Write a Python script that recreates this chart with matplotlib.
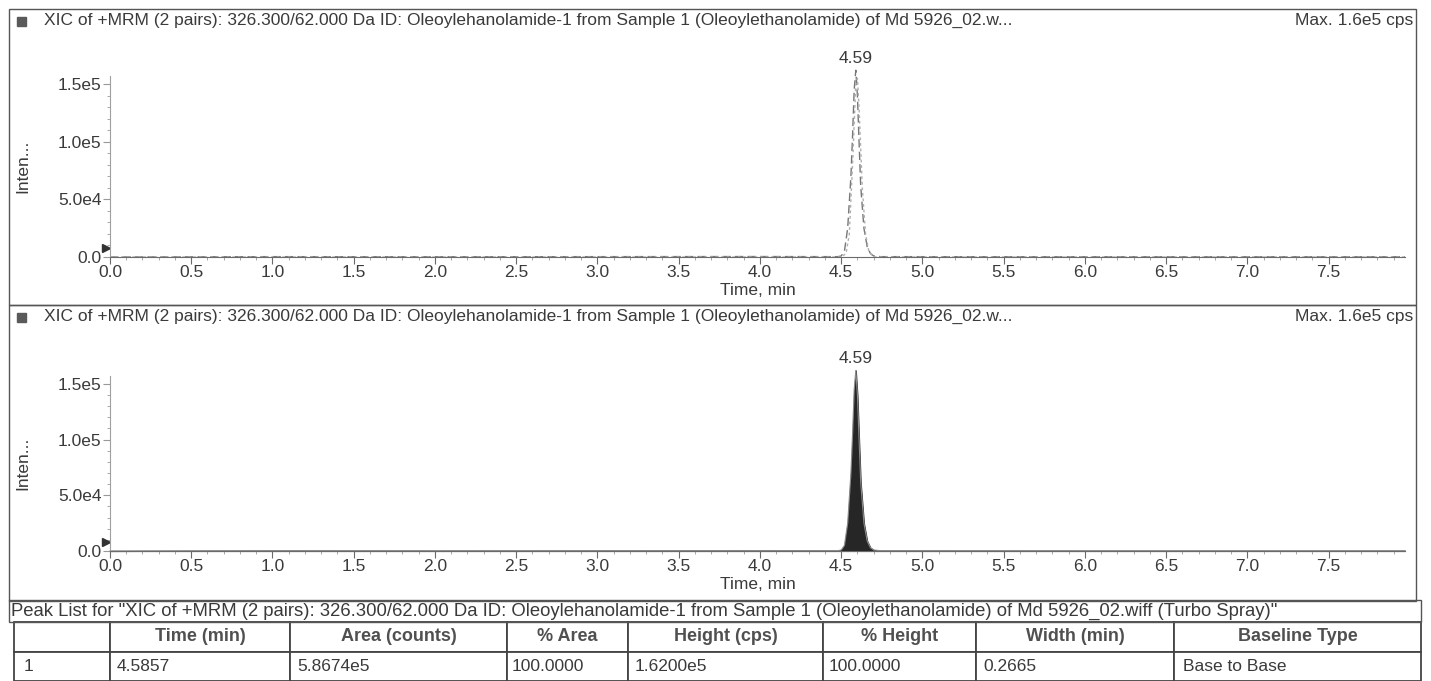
import matplotlib.pyplot as plt
from matplotlib.patches import Rectangle

plt.rcParams['font.family'] = ['Liberation Sans', 'DejaVu Sans']

W, H = 1431, 681

# chromatogram (min, cps)
time_a = [0.0, 1.0, 2.0, 3.0, 4.0, 4.48, 4.50, 4.52, 4.54, 4.56, 4.57, 4.58, 4.59,
          4.60, 4.61, 4.62, 4.64, 4.66, 4.68, 4.70, 4.74, 6.0, 7.97]
inten_a = [0, 300, 200, 300, 400, 300, 900, 5000, 25000, 70000, 105000, 145000, 162000,
           140000, 100000, 62000, 25000, 9000, 3000, 900, 300, 200, 200]
# second transition (top panel, lighter trace)
time_b = [0.0, 4.50, 4.53, 4.55, 4.57, 4.59, 4.60, 4.61, 4.63, 4.65, 4.67, 4.70, 7.97]
inten_b = [0, 0, 3000, 20000, 80000, 150000, 155000, 130000, 60000, 20000, 5000, 0, 0]

peak_rt = 4.59
x_ticks = [0.0, 0.5, 1.0, 1.5, 2.0, 2.5, 3.0, 3.5, 4.0, 4.5, 5.0, 5.5, 6.0, 6.5, 7.0, 7.5]
y_ticks = [0, 50000, 100000, 150000]
y_labels = ['0.0', '5.0e4', '1.0e5', '1.5e5']

title = ('XIC of +MRM (2 pairs): 326.300/62.000 Da ID: Oleoylehanolamide-1 from Sample 1 '
         '(Oleoylethanolamide) of Md 5926_02.w...')
max_label = 'Max. 1.6e5 cps'
peak_list_title = ('Peak List for "XIC of +MRM (2 pairs): 326.300/62.000 Da ID: Oleoylehanolamide-1 '
                   'from Sample 1 (Oleoylethanolamide) of Md 5926_02.wiff (Turbo Spray)"')
col_headers = ['', 'Time (min)', 'Area (counts)', '% Area', 'Height (cps)', '% Height',
               'Width (min)', 'Baseline Type']
row_values = ['1', '4.5857', '5.8674e5', '100.0000', '1.6200e5', '100.0000', '0.2665',
              'Base to Base']

TXT = '#3a3a3a'
LINE = '#6a6a6a'
FS = 12.5


def rect(l, t, r, b):
    return [l / W, 1 - b / H, (r - l) / W, (b - t) / H]


fig = plt.figure(figsize=(W / 100, H / 100), dpi=100)


def panel(top, ax_top, ax_bot, filled):
    # outer frame
    fig.add_artist(Rectangle((9 / W, 1 - (top + 296) / H), 1407 / W, 296 / H,
                             transform=fig.transFigure, fill=False, ec='#555555', lw=1.0))
    fig.add_artist(Rectangle((17 / W, 1 - (top + 17) / H), 9 / W, 9 / H,
                             transform=fig.transFigure, color='#5a5a5a'))
    fig.text(44 / W, 1 - (top + 11) / H, title, fontsize=FS, color=TXT, va='center')
    fig.text(1413 / W, 1 - (top + 11) / H, max_label, fontsize=FS, color=TXT,
             va='center', ha='right')

    ax = fig.add_axes(rect(110, ax_top, 1405, ax_bot))
    if filled:
        ax.fill_between(time_a, inten_a, color='#262626', lw=0.8, clip_on=False)
        ax.plot(time_a, inten_a, color='#8a8a8a', lw=0.8, clip_on=False)
    else:
        ax.plot(time_a, inten_a, color='#777777', lw=1.0, ls=(0, (6, 3)), clip_on=False)
        ax.plot(time_b, inten_b, color='#b0b0b0', lw=1.0, ls=(0, (2, 2)), clip_on=False)
    ax.set_xlim(0, 7.97)
    ax.set_ylim(0, 157000)
    ax.set_xticks(x_ticks)
    ax.set_xticklabels([f'{t:.1f}' for t in x_ticks])
    ax.set_yticks(y_ticks)
    ax.set_yticklabels(y_labels)
    ax.set_xticks([i / 10 for i in range(80)], minor=True)
    ax.set_yticks([i * 10000 for i in range(16)], minor=True)
    for s in ['top', 'right']:
        ax.spines[s].set_visible(False)
    ax.spines['bottom'].set_color(LINE)
    ax.spines['left'].set_color('#a0a0a0')
    ax.tick_params(which='major', length=5, color=LINE, labelsize=FS, labelcolor=TXT, pad=1)
    ax.tick_params(which='minor', length=2.5, color='#999999')
    ax.tick_params(axis='y', which='major', color='#999999')
    ax.set_xlabel('Time, min', fontsize=FS, color=TXT, labelpad=2)
    ax.set_ylabel('Inten...', fontsize=FS, color=TXT, labelpad=20)
    ax.plot(-0.003, 0.05, marker='>', ms=6, color='#333333', transform=ax.transAxes,
            clip_on=False)
    i = inten_a.index(max(inten_a))
    ax.annotate(f'{peak_rt:.2f}', (time_a[i], inten_a[i]), xytext=(0, 3),
                textcoords='offset points', ha='center', va='bottom', fontsize=FS,
                color=TXT, annotation_clip=False)
    ax.patch.set_alpha(0)
    return ax


panel(9, 76, 257, False)
panel(305, 376, 551, True)

# peak list
fig.add_artist(Rectangle((9 / W, 1 - 622 / H), 1412 / W, 22 / H,
                         transform=fig.transFigure, fill=False, ec='#555555', lw=1.0))
fig.text(11 / W, 1 - 611 / H, peak_list_title, fontsize=13.3, color=TXT, va='center')

edges = [14, 110, 290, 507, 628, 823, 976, 1174, 1421]
tax = fig.add_axes(rect(14, 622, 1421, 681))
tax.axis('off')
widths = [(edges[k + 1] - edges[k]) / (edges[-1] - edges[0]) for k in range(len(edges) - 1)]
tbl = tax.table(cellText=[row_values], colLabels=col_headers, colWidths=widths,
                bbox=[0, 0, 1, 1], cellLoc='left')
tbl.auto_set_font_size(False)
for (r, c), cell in tbl.get_celld().items():
    cell.set_edgecolor('#444444')
    cell.set_linewidth(1.3)
    txt = cell.get_text()
    txt.set_color(TXT)
    if r == 0:
        txt.set_fontsize(13)
        txt.set_fontweight('bold')
        txt.set_color('#505050')
        txt.set_ha('center')
        cell._loc = 'center'
    else:
        txt.set_fontsize(12.5)
        cell.PAD = 0.035 if c else 0.1

fig.savefig('out.png', dpi=100)
